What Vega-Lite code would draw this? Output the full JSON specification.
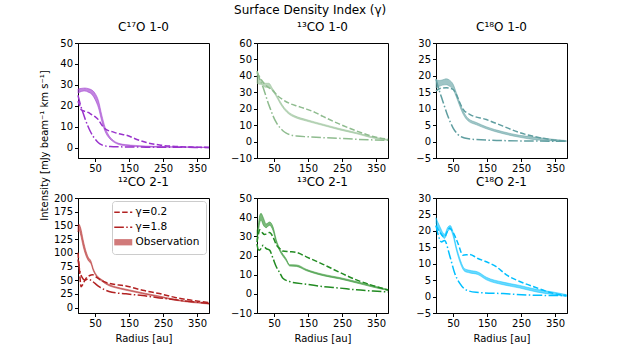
{
  "$schema": "https://vega.github.io/schema/vega-lite/v6.json",
  "padding": {"left": 38, "top": 3, "right": 5, "bottom": 5},
  "background": "white",
  "title": {"text": "Surface Density Index (γ)", "anchor": "middle", "fontSize": 12, "fontWeight": "normal", "font": "DejaVu Sans", "offset": 4, "dx": 6},
  "config": {
    "font": "DejaVu Sans",
    "view": {"stroke": "black", "strokeWidth": 1},
    "axis": {"grid": false, "domainColor": "black", "domainWidth": 1, "tickColor": "black", "labelColor": "black", "titleColor": "black", "labelFontSize": 10, "titleFontSize": 10, "titleFontWeight": "normal", "tickSize": 3.5, "labelPadding": 2, "labelFont": "DejaVu Sans", "titleFont": "DejaVu Sans", "labelOverlap": false, "titlePadding": 5},
    "title": {"fontSize": 12, "fontWeight": "normal", "offset": 0, "color": "black"}
  },
  "data": {"values": [
    {"p":"a","s":"Observation","r":0,"v":26,"hi":28},
    {"p":"a","s":"Observation","r":10,"v":26.8,"hi":28.3},
    {"p":"a","s":"Observation","r":20,"v":27,"hi":28.5},
    {"p":"a","s":"Observation","r":30,"v":26.5,"hi":28.2},
    {"p":"a","s":"Observation","r":40,"v":25.5,"hi":27.6},
    {"p":"a","s":"Observation","r":50,"v":23,"hi":26},
    {"p":"a","s":"Observation","r":60,"v":19,"hi":22.5},
    {"p":"a","s":"Observation","r":70,"v":12.5,"hi":15.5},
    {"p":"a","s":"Observation","r":80,"v":7.5,"hi":9.5},
    {"p":"a","s":"Observation","r":90,"v":4.8,"hi":6},
    {"p":"a","s":"Observation","r":100,"v":3.2,"hi":4},
    {"p":"a","s":"Observation","r":120,"v":1.4,"hi":2},
    {"p":"a","s":"Observation","r":140,"v":0.8,"hi":1.4},
    {"p":"a","s":"Observation","r":170,"v":0.5,"hi":1.0},
    {"p":"a","s":"Observation","r":200,"v":0.3,"hi":0.7},
    {"p":"a","s":"Observation","r":250,"v":0.2,"hi":0.5},
    {"p":"a","s":"Observation","r":300,"v":0.1,"hi":0.35},
    {"p":"a","s":"Observation","r":350,"v":0.05,"hi":0.25},
    {"p":"a","s":"Observation","r":385,"v":0,"hi":0.15},
    {"p":"a","s":"γ=0.2","r":0,"v":22.2},
    {"p":"a","s":"γ=0.2","r":5,"v":20},
    {"p":"a","s":"γ=0.2","r":10,"v":18},
    {"p":"a","s":"γ=0.2","r":20,"v":17.3},
    {"p":"a","s":"γ=0.2","r":30,"v":16.8},
    {"p":"a","s":"γ=0.2","r":40,"v":15.8},
    {"p":"a","s":"γ=0.2","r":50,"v":14.8},
    {"p":"a","s":"γ=0.2","r":60,"v":13.3},
    {"p":"a","s":"γ=0.2","r":70,"v":10.8},
    {"p":"a","s":"γ=0.2","r":80,"v":8.9},
    {"p":"a","s":"γ=0.2","r":90,"v":8.1},
    {"p":"a","s":"γ=0.2","r":100,"v":7.6},
    {"p":"a","s":"γ=0.2","r":120,"v":6.6},
    {"p":"a","s":"γ=0.2","r":142,"v":5.9},
    {"p":"a","s":"γ=0.2","r":171,"v":4},
    {"p":"a","s":"γ=0.2","r":201,"v":2.4},
    {"p":"a","s":"γ=0.2","r":240,"v":1.2},
    {"p":"a","s":"γ=0.2","r":290,"v":0.5},
    {"p":"a","s":"γ=0.2","r":340,"v":0.2},
    {"p":"a","s":"γ=0.2","r":385,"v":0.05},
    {"p":"a","s":"γ=1.8","r":0,"v":25},
    {"p":"a","s":"γ=1.8","r":3,"v":23},
    {"p":"a","s":"γ=1.8","r":8,"v":20},
    {"p":"a","s":"γ=1.8","r":15,"v":16.5},
    {"p":"a","s":"γ=1.8","r":22,"v":13.2},
    {"p":"a","s":"γ=1.8","r":29,"v":10.3},
    {"p":"a","s":"γ=1.8","r":36,"v":7.8},
    {"p":"a","s":"γ=1.8","r":44,"v":5.5},
    {"p":"a","s":"γ=1.8","r":52,"v":3.7},
    {"p":"a","s":"γ=1.8","r":60,"v":2.3},
    {"p":"a","s":"γ=1.8","r":70,"v":1.3},
    {"p":"a","s":"γ=1.8","r":80,"v":0.8},
    {"p":"a","s":"γ=1.8","r":95,"v":0.5},
    {"p":"a","s":"γ=1.8","r":120,"v":0.35},
    {"p":"a","s":"γ=1.8","r":200,"v":0.2},
    {"p":"a","s":"γ=1.8","r":300,"v":0.1},
    {"p":"a","s":"γ=1.8","r":385,"v":0.05},

    {"p":"b","s":"Observation","r":0,"v":35.5,"hi":40.5},
    {"p":"b","s":"Observation","r":5,"v":35,"hi":39},
    {"p":"b","s":"Observation","r":15,"v":34.5,"hi":37},
    {"p":"b","s":"Observation","r":25,"v":33,"hi":35.5},
    {"p":"b","s":"Observation","r":35,"v":33,"hi":35.5},
    {"p":"b","s":"Observation","r":45,"v":31,"hi":32.5},
    {"p":"b","s":"Observation","r":55,"v":28,"hi":29.3},
    {"p":"b","s":"Observation","r":67,"v":23.5,"hi":24.8},
    {"p":"b","s":"Observation","r":80,"v":19.5,"hi":20.7},
    {"p":"b","s":"Observation","r":95,"v":16.5,"hi":17.6},
    {"p":"b","s":"Observation","r":110,"v":14.8,"hi":15.8},
    {"p":"b","s":"Observation","r":145,"v":12.5,"hi":13.4},
    {"p":"b","s":"Observation","r":194,"v":9.8,"hi":10.6},
    {"p":"b","s":"Observation","r":243,"v":7.1,"hi":7.9},
    {"p":"b","s":"Observation","r":292,"v":4.8,"hi":5.5},
    {"p":"b","s":"Observation","r":341,"v":2.1,"hi":2.8},
    {"p":"b","s":"Observation","r":385,"v":0.7,"hi":1.3},
    {"p":"b","s":"γ=0.2","r":0,"v":42},
    {"p":"b","s":"γ=0.2","r":10,"v":38.5},
    {"p":"b","s":"γ=0.2","r":20,"v":35.5},
    {"p":"b","s":"γ=0.2","r":30,"v":33.5},
    {"p":"b","s":"γ=0.2","r":47,"v":31},
    {"p":"b","s":"γ=0.2","r":60,"v":28},
    {"p":"b","s":"γ=0.2","r":76,"v":25.5},
    {"p":"b","s":"γ=0.2","r":96,"v":23.2},
    {"p":"b","s":"γ=0.2","r":120,"v":21.5},
    {"p":"b","s":"γ=0.2","r":145,"v":19.8},
    {"p":"b","s":"γ=0.2","r":170,"v":17.8},
    {"p":"b","s":"γ=0.2","r":194,"v":15.3},
    {"p":"b","s":"γ=0.2","r":243,"v":10.6},
    {"p":"b","s":"γ=0.2","r":292,"v":6.5},
    {"p":"b","s":"γ=0.2","r":341,"v":3.1},
    {"p":"b","s":"γ=0.2","r":385,"v":1.4},
    {"p":"b","s":"γ=1.8","r":0,"v":43},
    {"p":"b","s":"γ=1.8","r":8,"v":38},
    {"p":"b","s":"γ=1.8","r":17,"v":33.5},
    {"p":"b","s":"γ=1.8","r":25,"v":28.5},
    {"p":"b","s":"γ=1.8","r":32,"v":24},
    {"p":"b","s":"γ=1.8","r":40,"v":19.5},
    {"p":"b","s":"γ=1.8","r":47,"v":15.7},
    {"p":"b","s":"γ=1.8","r":57,"v":11.5},
    {"p":"b","s":"γ=1.8","r":67,"v":8.6},
    {"p":"b","s":"γ=1.8","r":76,"v":6.6},
    {"p":"b","s":"γ=1.8","r":86,"v":5.1},
    {"p":"b","s":"γ=1.8","r":100,"v":4},
    {"p":"b","s":"γ=1.8","r":116,"v":3.4},
    {"p":"b","s":"γ=1.8","r":150,"v":2.9},
    {"p":"b","s":"γ=1.8","r":194,"v":2.4},
    {"p":"b","s":"γ=1.8","r":250,"v":1.9},
    {"p":"b","s":"γ=1.8","r":292,"v":1.4},
    {"p":"b","s":"γ=1.8","r":341,"v":1.0},
    {"p":"b","s":"γ=1.8","r":385,"v":0.8},

    {"p":"c","s":"Observation","r":0,"v":16.3,"hi":18.8},
    {"p":"c","s":"Observation","r":10,"v":16.8,"hi":18.6},
    {"p":"c","s":"Observation","r":20,"v":17.2,"hi":18.8},
    {"p":"c","s":"Observation","r":30,"v":17.3,"hi":19.1},
    {"p":"c","s":"Observation","r":40,"v":16.8,"hi":18.7},
    {"p":"c","s":"Observation","r":50,"v":15.9,"hi":17.5},
    {"p":"c","s":"Observation","r":60,"v":13.5,"hi":14.8},
    {"p":"c","s":"Observation","r":70,"v":10.7,"hi":11.8},
    {"p":"c","s":"Observation","r":80,"v":8.3,"hi":9.3},
    {"p":"c","s":"Observation","r":94,"v":6.3,"hi":7.1},
    {"p":"c","s":"Observation","r":119,"v":5.1,"hi":5.8},
    {"p":"c","s":"Observation","r":148,"v":3.9,"hi":4.5},
    {"p":"c","s":"Observation","r":197,"v":2.4,"hi":3.0},
    {"p":"c","s":"Observation","r":246,"v":1.3,"hi":1.9},
    {"p":"c","s":"Observation","r":295,"v":0.5,"hi":1.3},
    {"p":"c","s":"Observation","r":344,"v":0.2,"hi":0.7},
    {"p":"c","s":"Observation","r":383,"v":0.0,"hi":0.3},
    {"p":"c","s":"γ=0.2","r":0,"v":15.4},
    {"p":"c","s":"γ=0.2","r":10,"v":16.1},
    {"p":"c","s":"γ=0.2","r":30,"v":16.4},
    {"p":"c","s":"γ=0.2","r":50,"v":15.9},
    {"p":"c","s":"γ=0.2","r":60,"v":14.3},
    {"p":"c","s":"γ=0.2","r":70,"v":11.8},
    {"p":"c","s":"γ=0.2","r":80,"v":9.8},
    {"p":"c","s":"γ=0.2","r":99,"v":8.3},
    {"p":"c","s":"γ=0.2","r":148,"v":6.7},
    {"p":"c","s":"γ=0.2","r":197,"v":4.7},
    {"p":"c","s":"γ=0.2","r":246,"v":2.7},
    {"p":"c","s":"γ=0.2","r":295,"v":1.4},
    {"p":"c","s":"γ=0.2","r":344,"v":0.5},
    {"p":"c","s":"γ=0.2","r":383,"v":0.1},
    {"p":"c","s":"γ=1.8","r":0,"v":19},
    {"p":"c","s":"γ=1.8","r":7,"v":16.4},
    {"p":"c","s":"γ=1.8","r":20,"v":12.3},
    {"p":"c","s":"γ=1.8","r":35,"v":7.7},
    {"p":"c","s":"γ=1.8","r":50,"v":4.2},
    {"p":"c","s":"γ=1.8","r":65,"v":2.1},
    {"p":"c","s":"γ=1.8","r":84,"v":1.1},
    {"p":"c","s":"γ=1.8","r":119,"v":0.6},
    {"p":"c","s":"γ=1.8","r":197,"v":0.3},
    {"p":"c","s":"γ=1.8","r":300,"v":0.15},
    {"p":"c","s":"γ=1.8","r":383,"v":0.1},

    {"p":"d","s":"Observation","r":0,"v":138,"hi":150},
    {"p":"d","s":"Observation","r":3,"v":142,"hi":152},
    {"p":"d","s":"Observation","r":8,"v":132,"hi":145},
    {"p":"d","s":"Observation","r":15,"v":112,"hi":124},
    {"p":"d","s":"Observation","r":22,"v":97,"hi":106},
    {"p":"d","s":"Observation","r":30,"v":86,"hi":92},
    {"p":"d","s":"Observation","r":38,"v":80,"hi":85},
    {"p":"d","s":"Observation","r":45,"v":67,"hi":71},
    {"p":"d","s":"Observation","r":55,"v":56,"hi":59},
    {"p":"d","s":"Observation","r":70,"v":48,"hi":51},
    {"p":"d","s":"Observation","r":90,"v":40,"hi":42.5},
    {"p":"d","s":"Observation","r":110,"v":36,"hi":38},
    {"p":"d","s":"Observation","r":141,"v":31.5,"hi":33.5},
    {"p":"d","s":"Observation","r":190,"v":25,"hi":27},
    {"p":"d","s":"Observation","r":239,"v":19,"hi":21},
    {"p":"d","s":"Observation","r":288,"v":13,"hi":14.5},
    {"p":"d","s":"Observation","r":337,"v":9,"hi":10.5},
    {"p":"d","s":"Observation","r":385,"v":6.3,"hi":7.7},
    {"p":"d","s":"γ=0.2","r":0,"v":100},
    {"p":"d","s":"γ=0.2","r":4,"v":70},
    {"p":"d","s":"γ=0.2","r":9,"v":38},
    {"p":"d","s":"γ=0.2","r":14,"v":42},
    {"p":"d","s":"γ=0.2","r":22,"v":52},
    {"p":"d","s":"γ=0.2","r":33,"v":58},
    {"p":"d","s":"γ=0.2","r":43,"v":60},
    {"p":"d","s":"γ=0.2","r":55,"v":55},
    {"p":"d","s":"γ=0.2","r":70,"v":49},
    {"p":"d","s":"γ=0.2","r":92,"v":44},
    {"p":"d","s":"γ=0.2","r":141,"v":39.4},
    {"p":"d","s":"γ=0.2","r":190,"v":31.5},
    {"p":"d","s":"γ=0.2","r":239,"v":25.5},
    {"p":"d","s":"γ=0.2","r":288,"v":18},
    {"p":"d","s":"γ=0.2","r":337,"v":13},
    {"p":"d","s":"γ=0.2","r":385,"v":9},
    {"p":"d","s":"γ=1.8","r":0,"v":88},
    {"p":"d","s":"γ=1.8","r":5,"v":68},
    {"p":"d","s":"γ=1.8","r":12,"v":55},
    {"p":"d","s":"γ=1.8","r":20,"v":50},
    {"p":"d","s":"γ=1.8","r":30,"v":52},
    {"p":"d","s":"γ=1.8","r":40,"v":49},
    {"p":"d","s":"γ=1.8","r":50,"v":44},
    {"p":"d","s":"γ=1.8","r":62,"v":38},
    {"p":"d","s":"γ=1.8","r":80,"v":32},
    {"p":"d","s":"γ=1.8","r":100,"v":28},
    {"p":"d","s":"γ=1.8","r":141,"v":25},
    {"p":"d","s":"γ=1.8","r":190,"v":21.8},
    {"p":"d","s":"γ=1.8","r":239,"v":17.6},
    {"p":"d","s":"γ=1.8","r":288,"v":14},
    {"p":"d","s":"γ=1.8","r":337,"v":10.5},
    {"p":"d","s":"γ=1.8","r":385,"v":7.5},

    {"p":"e","s":"Observation","r":0,"v":28,"hi":33},
    {"p":"e","s":"Observation","r":3,"v":31,"hi":35},
    {"p":"e","s":"Observation","r":8,"v":37,"hi":41},
    {"p":"e","s":"Observation","r":12,"v":38.5,"hi":42},
    {"p":"e","s":"Observation","r":18,"v":36,"hi":40},
    {"p":"e","s":"Observation","r":27,"v":34.5,"hi":36.5},
    {"p":"e","s":"Observation","r":37,"v":35.8,"hi":37.5},
    {"p":"e","s":"Observation","r":47,"v":33,"hi":35},
    {"p":"e","s":"Observation","r":57,"v":26.5,"hi":28},
    {"p":"e","s":"Observation","r":67,"v":22.3,"hi":23.5},
    {"p":"e","s":"Observation","r":86,"v":17.2,"hi":18.2},
    {"p":"e","s":"Observation","r":96,"v":14.5,"hi":15.2},
    {"p":"e","s":"Observation","r":116,"v":14.3,"hi":15.1},
    {"p":"e","s":"Observation","r":145,"v":12.1,"hi":12.8},
    {"p":"e","s":"Observation","r":194,"v":9.5,"hi":10.2},
    {"p":"e","s":"Observation","r":243,"v":7.8,"hi":8.5},
    {"p":"e","s":"Observation","r":292,"v":5.7,"hi":6.4},
    {"p":"e","s":"Observation","r":341,"v":3.5,"hi":4.2},
    {"p":"e","s":"Observation","r":385,"v":1.7,"hi":2.3},
    {"p":"e","s":"γ=0.2","r":0,"v":27},
    {"p":"e","s":"γ=0.2","r":3,"v":30},
    {"p":"e","s":"γ=0.2","r":8,"v":33.4},
    {"p":"e","s":"γ=0.2","r":15,"v":32},
    {"p":"e","s":"γ=0.2","r":22,"v":31},
    {"p":"e","s":"γ=0.2","r":30,"v":31.5},
    {"p":"e","s":"γ=0.2","r":37,"v":32},
    {"p":"e","s":"γ=0.2","r":47,"v":29.7},
    {"p":"e","s":"γ=0.2","r":57,"v":25.5},
    {"p":"e","s":"γ=0.2","r":67,"v":23.6},
    {"p":"e","s":"γ=0.2","r":76,"v":22.3},
    {"p":"e","s":"γ=0.2","r":96,"v":22},
    {"p":"e","s":"γ=0.2","r":116,"v":21.6},
    {"p":"e","s":"γ=0.2","r":145,"v":19.3},
    {"p":"e","s":"γ=0.2","r":194,"v":15.4},
    {"p":"e","s":"γ=0.2","r":243,"v":11.2},
    {"p":"e","s":"γ=0.2","r":292,"v":7.3},
    {"p":"e","s":"γ=0.2","r":341,"v":4.3},
    {"p":"e","s":"γ=0.2","r":385,"v":2},
    {"p":"e","s":"γ=1.8","r":0,"v":26},
    {"p":"e","s":"γ=1.8","r":4,"v":23},
    {"p":"e","s":"γ=1.8","r":8,"v":22.8},
    {"p":"e","s":"γ=1.8","r":13,"v":24},
    {"p":"e","s":"γ=1.8","r":18,"v":25.3},
    {"p":"e","s":"γ=1.8","r":27,"v":23.6},
    {"p":"e","s":"γ=1.8","r":37,"v":22.8},
    {"p":"e","s":"γ=1.8","r":47,"v":18.5},
    {"p":"e","s":"γ=1.8","r":57,"v":14},
    {"p":"e","s":"γ=1.8","r":67,"v":11},
    {"p":"e","s":"γ=1.8","r":76,"v":8.1},
    {"p":"e","s":"γ=1.8","r":96,"v":6.4},
    {"p":"e","s":"γ=1.8","r":145,"v":5},
    {"p":"e","s":"γ=1.8","r":194,"v":3.8},
    {"p":"e","s":"γ=1.8","r":243,"v":3},
    {"p":"e","s":"γ=1.8","r":292,"v":2.1},
    {"p":"e","s":"γ=1.8","r":341,"v":1.5},
    {"p":"e","s":"γ=1.8","r":385,"v":1},

    {"p":"f","s":"Observation","r":0,"v":22.3,"hi":24},
    {"p":"f","s":"Observation","r":11,"v":19.8,"hi":21.4},
    {"p":"f","s":"Observation","r":25,"v":17.7,"hi":19},
    {"p":"f","s":"Observation","r":35,"v":19.9,"hi":21.2},
    {"p":"f","s":"Observation","r":42,"v":20.4,"hi":21.6},
    {"p":"f","s":"Observation","r":50,"v":18.5,"hi":19.7},
    {"p":"f","s":"Observation","r":60,"v":14.1,"hi":15.1},
    {"p":"f","s":"Observation","r":70,"v":10.6,"hi":11.6},
    {"p":"f","s":"Observation","r":84,"v":7.7,"hi":8.5},
    {"p":"f","s":"Observation","r":99,"v":7.2,"hi":8.0},
    {"p":"f","s":"Observation","r":123,"v":6.7,"hi":7.5},
    {"p":"f","s":"Observation","r":148,"v":5.1,"hi":5.9},
    {"p":"f","s":"Observation","r":197,"v":3.6,"hi":4.4},
    {"p":"f","s":"Observation","r":246,"v":2.6,"hi":3.4},
    {"p":"f","s":"Observation","r":295,"v":1.4,"hi":2.2},
    {"p":"f","s":"Observation","r":344,"v":0.6,"hi":1.4},
    {"p":"f","s":"Observation","r":383,"v":0.0,"hi":0.6},
    {"p":"f","s":"γ=0.2","r":0,"v":21.6},
    {"p":"f","s":"γ=0.2","r":11,"v":19.6},
    {"p":"f","s":"γ=0.2","r":25,"v":18.1},
    {"p":"f","s":"γ=0.2","r":35,"v":20.2},
    {"p":"f","s":"γ=0.2","r":40,"v":20.9},
    {"p":"f","s":"γ=0.2","r":50,"v":19.6},
    {"p":"f","s":"γ=0.2","r":65,"v":16.1},
    {"p":"f","s":"γ=0.2","r":79,"v":12.6},
    {"p":"f","s":"γ=0.2","r":99,"v":12.8},
    {"p":"f","s":"γ=0.2","r":123,"v":11.6},
    {"p":"f","s":"γ=0.2","r":148,"v":10.6},
    {"p":"f","s":"γ=0.2","r":177,"v":9.1},
    {"p":"f","s":"γ=0.2","r":207,"v":6.6},
    {"p":"f","s":"γ=0.2","r":246,"v":4.6},
    {"p":"f","s":"γ=0.2","r":295,"v":2.7},
    {"p":"f","s":"γ=0.2","r":344,"v":1.0},
    {"p":"f","s":"γ=0.2","r":383,"v":0.3},
    {"p":"f","s":"γ=1.8","r":0,"v":21.6},
    {"p":"f","s":"γ=1.8","r":7,"v":18.6},
    {"p":"f","s":"γ=1.8","r":16,"v":16.6},
    {"p":"f","s":"γ=1.8","r":25,"v":17.1},
    {"p":"f","s":"γ=1.8","r":40,"v":12.6},
    {"p":"f","s":"γ=1.8","r":55,"v":7.1},
    {"p":"f","s":"γ=1.8","r":70,"v":4},
    {"p":"f","s":"γ=1.8","r":89,"v":2},
    {"p":"f","s":"γ=1.8","r":118,"v":1.3},
    {"p":"f","s":"γ=1.8","r":197,"v":0.9},
    {"p":"f","s":"γ=1.8","r":295,"v":0.4},
    {"p":"f","s":"γ=1.8","r":383,"v":0.3}
  ]},
  "columns": 3,
  "spacing": {"row": 40, "column": 48},
  "bounds": "flush",
  "resolve": {"scale": {"strokeDash": "independent"}, "legend": {"strokeDash": "independent"}},
  "concat": [
    {
      "title": "C¹⁷O 1-0",
      "width": 131, "height": 115,
      "transform": [{"filter": "datum.p==='a'"}],
      "encoding": {
        "x": {"field": "r", "type": "quantitative", "scale": {"domain": [0, 385], "nice": false}, "axis": {"values": [50, 150, 250, 350], "title": null}},
        "y": {"field": "v", "type": "quantitative", "scale": {"domain": [-5, 50], "nice": false}, "axis": {"values": [0, 10, 20, 30, 40, 50], "title": "Intensity [mJy beam⁻¹ km s⁻¹]", "titleY": 102, "titleX": -29}}
      },
      "layer": [
        {"transform": [{"filter": "datum.s==='Observation'"}], "mark": {"type": "area", "color": "#9932cc", "fillOpacity": 0.6, "stroke": "#9932cc", "strokeOpacity": 0.6, "strokeWidth": 0.8, "interpolate": "monotone"},
         "encoding": {"y2": {"field": "hi"}}},
        {"transform": [{"filter": "datum.s!=='Observation'"}], "mark": {"type": "line", "color": "#9932cc", "strokeWidth": 1.5, "interpolate": "monotone"},
         "encoding": {"strokeDash": {"field": "s", "type": "nominal", "scale": {"domain": ["γ=0.2", "γ=1.8", "Observation"], "range": [[5.5, 2.4], [9.6, 2.4, 1.5, 2.4], [1, 0]]}, "legend": null}}}
      ]
    },
    {
      "title": "¹³CO 1-0",
      "width": 131, "height": 115,
      "transform": [{"filter": "datum.p==='b'"}],
      "encoding": {
        "x": {"field": "r", "type": "quantitative", "scale": {"domain": [0, 385], "nice": false}, "axis": {"values": [50, 150, 250, 350], "title": null}},
        "y": {"field": "v", "type": "quantitative", "scale": {"domain": [-10, 60], "nice": false}, "axis": {"values": [-10, 0, 10, 20, 30, 40, 50, 60], "title": null}}
      },
      "layer": [
        {"transform": [{"filter": "datum.s==='Observation'"}], "mark": {"type": "area", "color": "#8fbc8f", "fillOpacity": 0.6, "stroke": "#8fbc8f", "strokeOpacity": 0.6, "strokeWidth": 0.8, "interpolate": "monotone"},
         "encoding": {"y2": {"field": "hi"}}},
        {"transform": [{"filter": "datum.s!=='Observation'"}], "mark": {"type": "line", "color": "#8fbc8f", "strokeWidth": 1.5, "interpolate": "monotone"},
         "encoding": {"strokeDash": {"field": "s", "type": "nominal", "scale": {"domain": ["γ=0.2", "γ=1.8", "Observation"], "range": [[5.5, 2.4], [9.6, 2.4, 1.5, 2.4], [1, 0]]}, "legend": null}}}
      ]
    },
    {
      "title": "C¹⁸O 1-0",
      "width": 131, "height": 115,
      "transform": [{"filter": "datum.p==='c'"}],
      "encoding": {
        "x": {"field": "r", "type": "quantitative", "scale": {"domain": [0, 385], "nice": false}, "axis": {"values": [50, 150, 250, 350], "title": null}},
        "y": {"field": "v", "type": "quantitative", "scale": {"domain": [-5, 30], "nice": false}, "axis": {"values": [-5, 0, 5, 10, 15, 20, 25, 30], "title": null}}
      },
      "layer": [
        {"transform": [{"filter": "datum.s==='Observation'"}], "mark": {"type": "area", "color": "#5f9ea0", "fillOpacity": 0.6, "stroke": "#5f9ea0", "strokeOpacity": 0.6, "strokeWidth": 0.8, "interpolate": "monotone"},
         "encoding": {"y2": {"field": "hi"}}},
        {"transform": [{"filter": "datum.s!=='Observation'"}], "mark": {"type": "line", "color": "#5f9ea0", "strokeWidth": 1.5, "interpolate": "monotone"},
         "encoding": {"strokeDash": {"field": "s", "type": "nominal", "scale": {"domain": ["γ=0.2", "γ=1.8", "Observation"], "range": [[5.5, 2.4], [9.6, 2.4, 1.5, 2.4], [1, 0]]}, "legend": null}}}
      ]
    },
    {
      "title": "¹²CO 2-1",
      "width": 131, "height": 115,
      "transform": [{"filter": "datum.p==='d'"}],
      "encoding": {
        "x": {"field": "r", "type": "quantitative", "scale": {"domain": [0, 385], "nice": false}, "axis": {"values": [50, 150, 250, 350], "title": "Radius [au]"}},
        "y": {"field": "v", "type": "quantitative", "scale": {"domain": [-10, 200], "nice": false}, "axis": {"values": [0, 25, 50, 75, 100, 125, 150, 175, 200], "title": null}}
      },
      "layer": [
        {"transform": [{"filter": "datum.s==='Observation'"}], "mark": {"type": "area", "color": "#b22222", "fillOpacity": 0.6, "stroke": "#b22222", "strokeOpacity": 0.6, "strokeWidth": 0.8, "interpolate": "monotone"},
         "encoding": {"y2": {"field": "hi"}}},
        {"transform": [{"filter": "datum.s!=='Observation'"}], "mark": {"type": "line", "color": "#b22222", "strokeWidth": 1.5, "interpolate": "monotone"},
         "encoding": {"strokeDash": {"field": "s", "type": "nominal", "scale": {"domain": ["γ=0.2", "γ=1.8", "Observation"], "range": [[5.5, 2.4], [9.6, 2.4, 1.5, 2.4], [1, 0]]},
           "legend": {"orient": "none", "legendX": 34, "legendY": 3, "title": null, "symbolType": "stroke", "symbolSize": 324, "symbolStrokeWidth": 1.5, "symbolStrokeColor": "#b22222", "labelFontSize": 10.5, "labelFont": "DejaVu Sans", "labelColor": "black", "labelOffset": 7, "strokeColor": "#cccccc", "cornerRadius": 3, "fillColor": "white", "padding": 6, "rowPadding": 4,
             "encode": {"symbols": {"update": {
               "shape": {"signal": "datum.value === 'Observation' ? 'M-1,-0.35H1V0.35H-1Z' : 'stroke'"},
               "fill": {"signal": "datum.value === 'Observation' ? '#d17a7a' : 'transparent'"},
               "stroke": {"value": "#b22222"},
               "strokeWidth": {"signal": "datum.value === 'Observation' ? 0 : 1.5"}
             }}}}}}}
      ]
    },
    {
      "title": "¹³CO 2-1",
      "width": 131, "height": 115,
      "transform": [{"filter": "datum.p==='e'"}],
      "encoding": {
        "x": {"field": "r", "type": "quantitative", "scale": {"domain": [0, 385], "nice": false}, "axis": {"values": [50, 150, 250, 350], "title": "Radius [au]"}},
        "y": {"field": "v", "type": "quantitative", "scale": {"domain": [-10, 50], "nice": false}, "axis": {"values": [-10, 0, 10, 20, 30, 40, 50], "title": null}}
      },
      "layer": [
        {"transform": [{"filter": "datum.s==='Observation'"}], "mark": {"type": "area", "color": "#228b22", "fillOpacity": 0.6, "stroke": "#228b22", "strokeOpacity": 0.6, "strokeWidth": 0.8, "interpolate": "monotone"},
         "encoding": {"y2": {"field": "hi"}}},
        {"transform": [{"filter": "datum.s!=='Observation'"}], "mark": {"type": "line", "color": "#228b22", "strokeWidth": 1.5, "interpolate": "monotone"},
         "encoding": {"strokeDash": {"field": "s", "type": "nominal", "scale": {"domain": ["γ=0.2", "γ=1.8", "Observation"], "range": [[5.5, 2.4], [9.6, 2.4, 1.5, 2.4], [1, 0]]}, "legend": null}}}
      ]
    },
    {
      "title": "C¹⁸O 2-1",
      "width": 131, "height": 115,
      "transform": [{"filter": "datum.p==='f'"}],
      "encoding": {
        "x": {"field": "r", "type": "quantitative", "scale": {"domain": [0, 385], "nice": false}, "axis": {"values": [50, 150, 250, 350], "title": "Radius [au]"}},
        "y": {"field": "v", "type": "quantitative", "scale": {"domain": [-5, 30], "nice": false}, "axis": {"values": [-5, 0, 5, 10, 15, 20, 25, 30], "title": null}}
      },
      "layer": [
        {"transform": [{"filter": "datum.s==='Observation'"}], "mark": {"type": "area", "color": "#00bfff", "fillOpacity": 0.6, "stroke": "#00bfff", "strokeOpacity": 0.6, "strokeWidth": 0.8, "interpolate": "monotone"},
         "encoding": {"y2": {"field": "hi"}}},
        {"transform": [{"filter": "datum.s!=='Observation'"}], "mark": {"type": "line", "color": "#00bfff", "strokeWidth": 1.5, "interpolate": "monotone"},
         "encoding": {"strokeDash": {"field": "s", "type": "nominal", "scale": {"domain": ["γ=0.2", "γ=1.8", "Observation"], "range": [[5.5, 2.4], [9.6, 2.4, 1.5, 2.4], [1, 0]]}, "legend": null}}}
      ]
    }
  ]
}
